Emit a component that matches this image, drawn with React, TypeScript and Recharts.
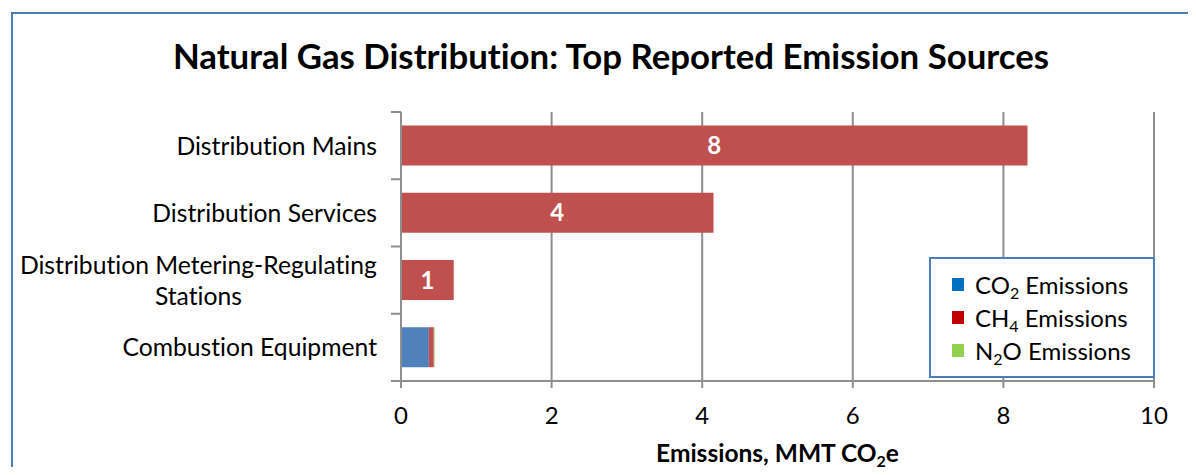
import React, { useLayoutEffect, useRef, useState } from 'react';
import { BarChart, Bar, XAxis, YAxis, CartesianGrid, Legend, LabelList } from 'recharts';

const categories = [
  'Distribution Mains',
  'Distribution Services',
  'Distribution Metering-Regulating Stations',
  'Combustion Equipment',
];
const co2Values = [0, 0, 0, 0.37];
const ch4Values = [8.32, 4.15, 0.7, 0.065];
const n2oValues = [0, 0, 0, 0.01];
const xTicks = [0, 2, 4, 6, 8, 10];

const legendItems = [
  { key: 'co2', base: 'CO', sub: '2', color: '#0070C0' },
  { key: 'ch4', base: 'CH', sub: '4', color: '#C00000' },
  { key: 'n2o', base: 'N', sub: '2', rest: 'O', color: '#92D050' },
];

const data = categories.map((name, i) => ({
  name,
  co2: co2Values[i],
  ch4: ch4Values[i],
  n2o: n2oValues[i],
}));

const FONT = 'Lato, "Open Sans", sans-serif';
const NO_LIGA = { fontVariantLigatures: 'none' as const };
const AXIS_GRAY = '#8E8E8E';
const TICK_SIZE = 10;
const TICK_MARGIN = 14;

// break long category names into lines of at most maxChars
function wrapLabel(text: string, maxChars: number): string[] {
  const words = text.split(' ');
  const lines: string[] = [];
  let cur = '';
  for (const w of words) {
    const next = cur ? cur + ' ' + w : w;
    if (next.length > maxChars && cur) {
      lines.push(cur);
      cur = w;
    } else {
      cur = next;
    }
  }
  if (cur) lines.push(cur);
  return lines;
}

function CategoryTick(props: any) {
  const { x, y, payload, index, visibleTicksCount } = props;
  const half = payload.offset ?? 0;
  const lines = wrapLabel(String(payload.value), 34);
  const ref = useRef<SVGGElement>(null);
  const [blockW, setBlockW] = useState(0);

  useLayoutEffect(() => {
    if (ref.current && lines.length > 1) setBlockW(ref.current.getBBox().width);
  }, [payload.value]);

  const lineH = 31;
  const startY = y - ((lines.length - 1) * lineH) / 2;
  const centered = lines.length > 1 && blockW > 0;
  const tx0 = x + TICK_MARGIN;
  const tx1 = tx0 + TICK_SIZE;

  return (
    <g>
      <g ref={ref}>
        {lines.map((ln, i) => (
          <text
            key={i}
            x={centered ? x - blockW / 2 : x}
            y={startY + i * lineH}
            dy="0.36em"
            textAnchor={centered ? 'middle' : 'end'}
            fontSize={24.7}
            fontFamily={FONT}
            fill="#000"
            style={NO_LIGA}
          >
            {ln}
          </text>
        ))}
      </g>
      {/* tick marks sit on the band edges, not on the band centres */}
      <line x1={tx0} x2={tx1} y1={y - half} y2={y - half} stroke={AXIS_GRAY} strokeWidth={2} />
      {index === visibleTicksCount - 1 && (
        <line x1={tx0} x2={tx1} y1={y + half} y2={y + half} stroke={AXIS_GRAY} strokeWidth={2} />
      )}
    </g>
  );
}

function ValueLabel(props: any) {
  const { x, y, width, height, value } = props;
  if (value < 0.5) return null;
  return (
    <text
      x={x + width / 2}
      y={y + height / 2}
      dy="0.36em"
      textAnchor="middle"
      fill="#fff"
      fontWeight="bold"
      fontSize={24}
      fontFamily={FONT}
    >
      {Math.round(value)}
    </text>
  );
}

function AxisTitle(props: any) {
  const vb = props.viewBox;
  return (
    <text
      x={vb.x + vb.width / 2}
      y={vb.y + 81}
      textAnchor="middle"
      fontWeight="bold"
      fontSize={24.5}
      fontFamily={FONT}
      fill="#000"
    >
      Emissions, MMT CO
      <tspan fontSize={16} dy={5}>
        2
      </tspan>
      <tspan dy={-5}>e</tspan>
    </text>
  );
}

function EmissionsLegend() {
  return (
    <div
      style={{
        boxSizing: 'border-box',
        width: 226,
        height: 121,
        border: '2px solid #4A7EBB',
        background: '#fff',
        padding: '9px 0 0 21px',
        fontFamily: FONT,
        fontSize: 24,
        color: '#000',
      }}
    >
      {legendItems.map((it) => (
        <div key={it.key} style={{ height: 33, display: 'flex', alignItems: 'center' }}>
          <span
            style={{ width: 12, height: 13, background: it.color, marginRight: 11, flex: 'none' }}
          />
          <span style={{ whiteSpace: 'nowrap', lineHeight: 1 }}>
            {it.base}
            <span style={{ fontSize: 16, position: 'relative', top: 5 }}>{it.sub}</span>
            {it.rest ?? ''} Emissions
          </span>
        </div>
      ))}
    </div>
  );
}

export default function App() {
  return (
    <div
      style={{
        position: 'relative',
        width: 1196,
        height: 475,
        margin: -8,
        overflow: 'hidden',
        background: '#fff',
      }}
    >
      <div
        style={{
          position: 'absolute',
          left: 11,
          top: 12,
          width: 1400,
          height: 700,
          borderTop: '2px solid #4A7EBB',
          borderLeft: '2px solid #4A7EBB',
        }}
      />
      <div
        style={{
          position: 'absolute',
          left: 611,
          top: 39,
          transform: 'translateX(-50%)',
          whiteSpace: 'nowrap',
          fontFamily: FONT,
          fontWeight: 'bold',
          fontSize: 34.8,
          lineHeight: 1,
          color: '#000',
          ...NO_LIGA,
        }}
      >
        Natural Gas Distribution: Top Reported Emission Sources
      </div>
      <div style={{ position: 'absolute', left: 0, top: 0 }}>
        <BarChart
          width={1196}
          height={475}
          data={data}
          layout="vertical"
          margin={{ top: 112, right: 42, bottom: 0, left: 0 }}
          barCategoryGap="20%"
        >
          <CartesianGrid horizontal={false} stroke={AXIS_GRAY} strokeWidth={2} />
          <XAxis
            type="number"
            domain={[0, 10]}
            ticks={xTicks}
            height={94}
            tickSize={7}
            tickMargin={19}
            axisLine={{ stroke: AXIS_GRAY, strokeWidth: 2 }}
            tickLine={{ stroke: AXIS_GRAY, strokeWidth: 2 }}
            tick={{ fill: '#000', fontSize: 24, fontFamily: FONT }}
            label={{ content: AxisTitle }}
          />
          <YAxis
            type="category"
            dataKey="name"
            width={401}
            tickSize={TICK_SIZE}
            tickMargin={TICK_MARGIN}
            tickLine={false}
            axisLine={{ stroke: AXIS_GRAY, strokeWidth: 2 }}
            tick={<CategoryTick />}
            interval={0}
          />
          <Legend
            layout="vertical"
            align="center"
            verticalAlign="middle"
            content={<EmissionsLegend />}
            wrapperStyle={{ left: 929, top: 257, width: 226, height: 121 }}
          />
          <Bar dataKey="co2" name="CO2 Emissions" stackId="e" fill="#4F81BD" isAnimationActive={false} />
          <Bar dataKey="ch4" name="CH4 Emissions" stackId="e" fill="#C0504D" isAnimationActive={false}>
            <LabelList dataKey="ch4" content={<ValueLabel />} />
          </Bar>
          <Bar dataKey="n2o" name="N2O Emissions" stackId="e" fill="#9BBB59" isAnimationActive={false} />
        </BarChart>
      </div>
    </div>
  );
}
